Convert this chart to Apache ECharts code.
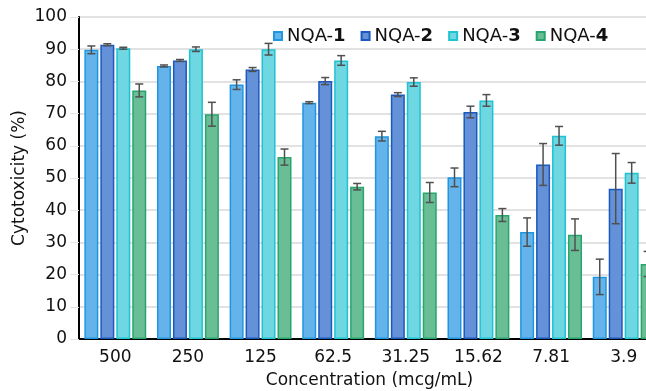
<!DOCTYPE html>
<html>
<head>
<meta charset="utf-8">
<script src="https://cdn.jsdelivr.net/npm/echarts@6/dist/echarts.min.js"></script>
<style>
html,body{margin:0;padding:0;background:#fff;overflow:hidden;}
#chart{width:646px;height:391px;}
</style>
</head>
<body>
<div id="chart"></div>
<script>
const categories = ['500', '250', '125', '62.5', '31.25', '15.62', '7.81', '3.9'];
const seriesNames = ['NQA-1', 'NQA-2', 'NQA-3', 'NQA-4'];
const nqa1 = [89.8, 84.8, 79.0, 73.4, 63.0, 50.2, 33.2, 19.3];
const nqa2 = [91.4, 86.5, 83.7, 80.1, 75.9, 70.5, 54.2, 46.7];
const nqa3 = [90.3, 90.0, 90.0, 86.5, 79.8, 74.1, 63.1, 51.6];
const nqa4 = [77.2, 69.8, 56.5, 47.3, 45.5, 38.5, 32.4, 23.3];
const err1 = [1.2, 0.3, 1.5, 0.3, 1.5, 2.9, 4.4, 5.5];
const err2 = [0.3, 0.3, 0.6, 1.1, 0.6, 1.8, 6.5, 10.9];
const err3 = [0.3, 0.7, 1.8, 1.5, 1.3, 1.8, 2.9, 3.2];
const err4 = [2.0, 3.7, 2.5, 1.0, 3.1, 2.0, 4.9, 3.9];
const yTicks = [0, 10, 20, 30, 40, 50, 60, 70, 80, 90, 100];

const values = [nqa1, nqa2, nqa3, nqa4];
const errors = [err1, err2, err3, err4];
const fills = ['#64b4eb', '#6491d7', '#6ed7e1', '#69be96'];
const borders = ['#1e96e1', '#1a5abe', '#1ec3d2', '#28a56e'];
const BAR_W = 14;
const GAP_RATIO = 0.14;
const FONT = 'DejaVu Sans';

const chart = echarts.init(document.getElementById('chart'), null, {renderer: 'canvas'});

const barSeries = values.map((v, i) => ({
  name: seriesNames[i],
  type: 'bar',
  data: v,
  barWidth: BAR_W,
  barGap: (GAP_RATIO * 100) + '%',
  itemStyle: {color: fills[i], borderColor: borders[i], borderWidth: 1.5},
  z: 2
}));

const gap = BAR_W * GAP_RATIO;
const total = 4 * BAR_W + 3 * gap;
const errSeries = values.map((v, i) => ({
  name: seriesNames[i] + '-err',
  type: 'custom',
  z: 5,
  silent: true,
  data: v.map((val, k) => [k, val - errors[i][k], val + errors[i][k]]),
  encode: {x: 0, y: [1, 2]},
  renderItem: function (params, api) {
    const xi = api.value(0);
    const lo = api.coord([xi, api.value(1)]);
    const hi = api.coord([xi, api.value(2)]);
    const off = -total / 2 + BAR_W / 2 + i * (BAR_W + gap);
    const x = lo[0] + off;
    const hw = 4;
    const style = {stroke: '#505050', lineWidth: 1.5, fill: null};
    return {
      type: 'group',
      children: [
        {type: 'line', shape: {x1: x, y1: lo[1], x2: x, y2: hi[1]}, style: style},
        {type: 'line', shape: {x1: x - hw, y1: lo[1], x2: x + hw, y2: lo[1]}, style: style},
        {type: 'line', shape: {x1: x - hw, y1: hi[1], x2: x + hw, y2: hi[1]}, style: style}
      ]
    };
  }
}));

const option = {
  animation: false,
  backgroundColor: '#ffffff',
  textStyle: {fontFamily: FONT},
  legend: {
    data: seriesNames,
    left: 268,
    top: 22,
    icon: 'rect',
    itemWidth: 8,
    itemHeight: 8,
    itemGap: 15,
    formatter: function (name) {
      const parts = name.split('-');
      return '{n|' + parts[0] + '-}{b|' + parts[1] + '}';
    },
    textStyle: {
      fontFamily: FONT,
      fontSize: 18,
      color: '#111',
      rich: {
        n: {fontFamily: FONT, fontSize: 18, color: '#111'},
        b: {fontFamily: FONT, fontSize: 18, fontWeight: 'bold', color: '#111'}
      }
    }
  },
  grid: {left: 79, right: -14, top: 17, bottom: 52, containLabel: false, outerBoundsMode: 'none'},
  xAxis: {
    type: 'category',
    data: categories,
    axisLine: {lineStyle: {color: '#000', width: 2}},
    axisTick: {show: false},
    axisLabel: {fontFamily: FONT, fontSize: 17, color: '#111', margin: 10},
    name: 'Concentration (mcg/mL)',
    nameLocation: 'middle',
    nameGap: 33,
    nameMoveOverlap: false,
    nameTextStyle: {fontFamily: FONT, fontSize: 17, color: '#111'}
  },
  yAxis: {
    type: 'value',
    min: yTicks[0],
    max: yTicks[yTicks.length - 1],
    interval: yTicks[1] - yTicks[0],
    axisLine: {show: true, lineStyle: {color: '#000', width: 2}},
    axisTick: {show: true, length: 9, lineStyle: {color: '#e6e6e6', width: 1}},
    axisLabel: {fontFamily: FONT, fontSize: 17, color: '#111', margin: 12},
    splitLine: {lineStyle: {color: '#d9d9d9', width: 1.5}},
    name: 'Cytotoxicity (%)',
    nameLocation: 'middle',
    nameGap: 51,
    nameMoveOverlap: false,
    nameTextStyle: {fontFamily: FONT, fontSize: 17, color: '#111'}
  },
  series: barSeries.concat(errSeries)
};
chart.setOption(option);
</script>
</body>
</html>
